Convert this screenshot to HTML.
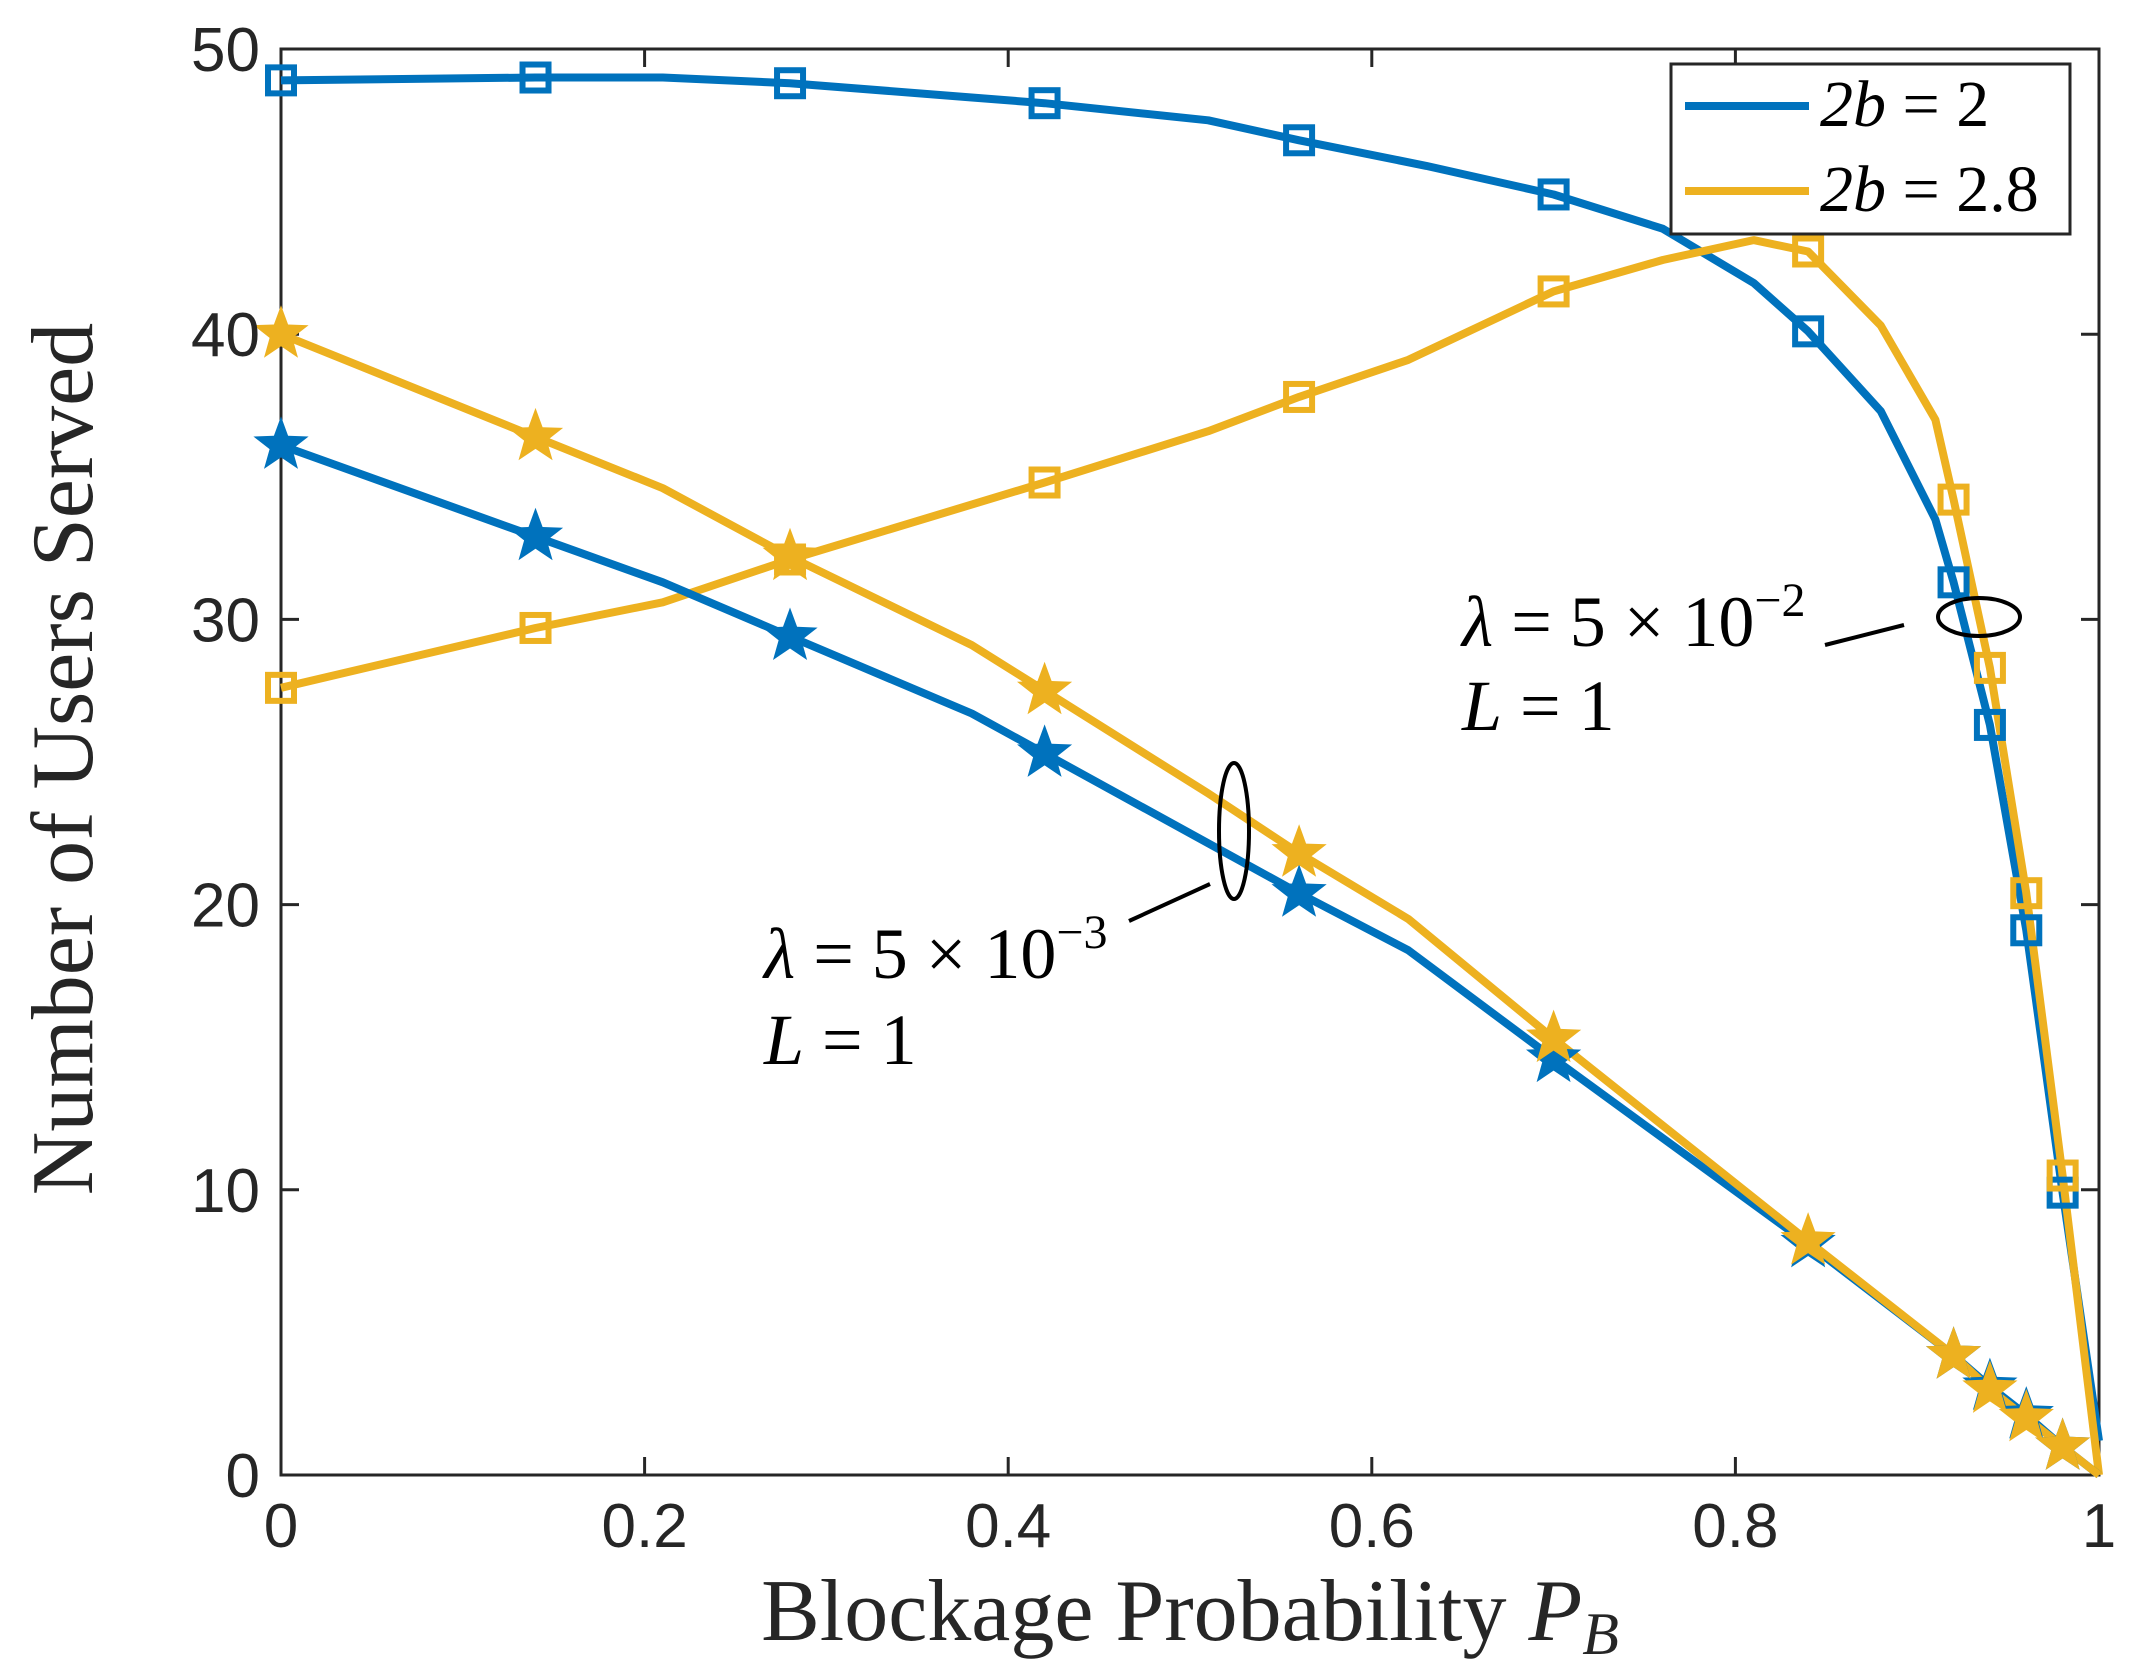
<!DOCTYPE html>
<html><head><meta charset="utf-8"><style>body{margin:0;background:#fff}svg{display:block}</style></head>
<body>
<svg id="s" width="2134" height="1680" xmlns="http://www.w3.org/2000/svg">
<rect width="2134" height="1680" fill="#fff"/>
<g id="plot"></g>
<g font-family="Liberation Sans, sans-serif" font-size="62" fill="#262626" id="ticks"></g>
<text x="1190" y="1640" font-family="Liberation Serif, serif" font-size="88" text-anchor="middle" fill="#262626">Blockage Probability <tspan font-style="italic">P</tspan><tspan font-style="italic" font-size="60" dy="14">B</tspan></text>
<text transform="translate(92,759) rotate(-90)" font-family="Liberation Serif, serif" font-size="88" text-anchor="middle" fill="#262626">Number of Users Served</text>
<g font-family="Liberation Serif, serif" font-size="72" fill="#000">
<text x="1462" y="646" font-style="italic">λ<tspan font-style="normal"> = 5 × 10</tspan><tspan font-style="normal" font-size="48" dy="-30">−2</tspan></text>
<text x="1462" y="730" font-style="italic">L<tspan font-style="normal"> = 1</tspan></text>
<text x="764" y="978" font-style="italic">λ<tspan font-style="normal"> = 5 × 10</tspan><tspan font-style="normal" font-size="48" dy="-30">−3</tspan></text>
<text x="764" y="1064" font-style="italic">L<tspan font-style="normal"> = 1</tspan></text>
</g>
<ellipse cx="1979" cy="617" rx="41" ry="19" fill="none" stroke="#000" stroke-width="4"/>
<line x1="1825" y1="645" x2="1904" y2="625" stroke="#000" stroke-width="4"/>
<ellipse cx="1234" cy="831" rx="15" ry="68" fill="none" stroke="#000" stroke-width="4"/>
<line x1="1129" y1="921" x2="1210" y2="884" stroke="#000" stroke-width="4"/>
<rect x="1671" y="64" width="399" height="170" fill="#fff" stroke="#262626" stroke-width="3"/>
<line x1="1685" y1="106" x2="1809" y2="106" stroke="#0072BD" stroke-width="8"/>
<line x1="1685" y1="191" x2="1809" y2="191" stroke="#EDB120" stroke-width="8"/>
<text x="1820" y="126" font-family="Liberation Serif, serif" font-size="66"><tspan font-style="italic">2b</tspan> = 2</text>
<text x="1820" y="211" font-family="Liberation Serif, serif" font-size="66"><tspan font-style="italic">2b</tspan> = 2.8</text>
</svg>
<script>
const X0=281,X1=2099,Y0=1475,Y1=49;
const px=x=>X0+x*(X1-X0), py=y=>Y0-y/50*(Y0-Y1);
const B='#0072BD',Y='#EDB120';
const bs=[[0,48.9],[0.14,49],[0.21,49],[0.28,48.8],[0.38,48.3],[0.42,48.1],[0.51,47.5],[0.56,46.8],[0.63,45.9],[0.70,44.9],[0.76,43.7],[0.81,41.8],[0.84,40.1],[0.88,37.3],[0.91,33.5],[0.92,31.3],[0.94,26.3],[0.96,19.1],[0.98,9.9],[1,1.2]];
const ys=[[0,27.6],[0.14,29.7],[0.21,30.6],[0.28,32.1],[0.42,34.8],[0.51,36.6],[0.56,37.8],[0.62,39.1],[0.70,41.5],[0.76,42.6],[0.81,43.3],[0.84,42.9],[0.88,40.3],[0.91,37],[0.92,34.2],[0.94,28.3],[0.96,20.4],[0.98,10.5],[1,0]];
const bt=[[0,36.1],[0.14,32.9],[0.21,31.3],[0.28,29.4],[0.38,26.7],[0.42,25.3],[0.56,20.4],[0.62,18.4],[0.70,14.6],[0.84,8.1],[0.92,4.2],[0.94,3.1],[0.96,2.1],[0.98,1.0],[1,0]];
const yt=[[0,40],[0.14,36.4],[0.21,34.6],[0.28,32.2],[0.38,29.1],[0.42,27.5],[0.51,23.9],[0.56,21.8],[0.62,19.5],[0.70,15.3],[0.84,8.2],[0.92,4.2],[0.94,3.0],[0.96,2.0],[0.98,1.0],[1,0]];
const mk=[0,0.14,0.28,0.42,0.56,0.70,0.84,0.92,0.94,0.96,0.98];
let h='<rect x="'+X0+'" y="'+Y1+'" width="'+(X1-X0)+'" height="'+(Y0-Y1)+'" fill="none" stroke="#262626" stroke-width="3"/>';
function line(d,c){return '<polyline fill="none" stroke="'+c+'" stroke-width="8" stroke-linejoin="round" points="'+d.map(p=>px(p[0]).toFixed(1)+','+py(p[1]).toFixed(1)).join(' ')+'"/>';}
function marks(d,c,t){let s='';d.forEach(p=>{if(!mk.some(m=>Math.abs(m-p[0])<1e-6))return;const x=px(p[0]),y=py(p[1]);
 if(t=='s')s+='<rect x="'+(x-13)+'" y="'+(y-13)+'" width="26" height="26" fill="none" stroke="'+c+'" stroke-width="6"/>';
 else{let pts=[];for(let i=0;i<10;i++){const r=i%2?12:29,a=-Math.PI/2+i*Math.PI/5;pts.push((x+r*Math.cos(a)).toFixed(1)+','+(y+r*Math.sin(a)).toFixed(1));}s+='<polygon points="'+pts.join(' ')+'" fill="'+c+'"/>';}});return s;}
let t='';
for(let i=0;i<=5;i++){const x=px(i*0.2);t+='<line x1="'+x+'" y1="'+Y0+'" x2="'+x+'" y2="'+(Y0-18)+'" stroke="#262626" stroke-width="3"/><line x1="'+x+'" y1="'+Y1+'" x2="'+x+'" y2="'+(Y1+18)+'" stroke="#262626" stroke-width="3"/>';
 const y=py(i*10);t+='<line x1="'+X0+'" y1="'+y+'" x2="'+(X0+18)+'" y2="'+y+'" stroke="#262626" stroke-width="3"/><line x1="'+X1+'" y1="'+y+'" x2="'+(X1-18)+'" y2="'+y+'" stroke="#262626" stroke-width="3"/>';}
h=t+h;
h+=line(bs,B)+line(ys,Y)+line(bt,B)+line(yt,Y)+marks(bs,B,'s')+marks(ys,Y,'s')+marks(bt,B,'t')+marks(yt,Y,'t');
document.getElementById('plot').innerHTML=h;
let l='';
['0','0.2','0.4','0.6','0.8','1'].forEach((s,i)=>{l+='<text x="'+px(i*0.2)+'" y="1547" text-anchor="middle">'+s+'</text>';});
for(let i=0;i<=5;i++)l+='<text x="260" y="'+(py(i*10)+22)+'" text-anchor="end">'+(i*10)+'</text>';
document.getElementById('ticks').innerHTML=l;
</script>
</body></html>
